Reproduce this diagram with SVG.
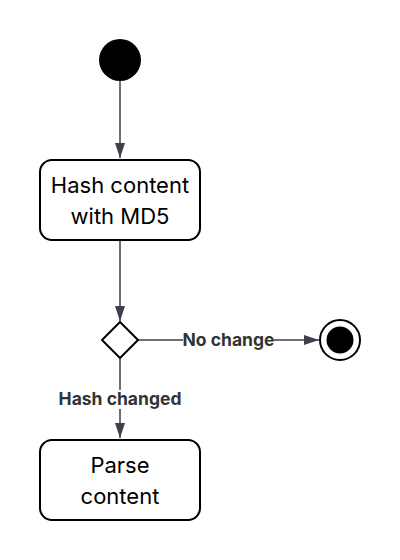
<svg xmlns="http://www.w3.org/2000/svg" width="400" height="560" viewBox="0 0 400 560">
<style>
.node{fill:#fff;stroke:#000;stroke-width:2}
.t{font-family:Inter,"Noto Sans",sans-serif;font-size:22px;fill:#000;text-anchor:middle}
.edge{stroke:#3b4049;stroke-width:1.5;fill:none}
.lbl{font-family:Inter,"Noto Sans",sans-serif;font-size:17.5px;font-weight:bold;fill:#333;text-anchor:middle}
</style>
<defs>
<marker id="arr" viewBox="0 0 15 10" refX="15" refY="5" markerWidth="15" markerHeight="10" markerUnits="userSpaceOnUse" orient="auto">
<path d="M0,0 L15,5 L0,10 z" fill="#3b4049"/>
</marker>
</defs>
<rect width="400" height="560" fill="#fff"/>
<g id="connectors">
<line class="edge" x1="120" y1="81" x2="120" y2="158" marker-end="url(#arr)"/>
<line class="edge" x1="120" y1="241" x2="120" y2="321" marker-end="url(#arr)"/>
<line class="edge" x1="138" y1="340" x2="319" y2="340" marker-end="url(#arr)"/>
<line class="edge" x1="120" y1="358" x2="120" y2="438" marker-end="url(#arr)"/>
<rect x="183" y="331" width="91" height="18" fill="#fff"/>
<text class="lbl" x="228.5" y="346">No change</text>
<rect x="58" y="390" width="124" height="19" fill="#fff"/>
<text class="lbl" x="120" y="405">Hash changed</text>
</g>
<g id="start"><circle cx="120" cy="60" r="21" fill="#000"/></g>
<g id="hash"><rect class="node" x="40" y="160" width="160" height="80" rx="12"/>
<text class="t" x="120" y="192.5">Hash content</text>
<text class="t" x="120" y="223.5">with MD5</text></g>
<g id="decision"><path class="node" d="M120,322 L138,340 L120,358 L102,340 Z" stroke-linejoin="round"/></g>
<g id="end"><circle cx="340" cy="340" r="20" fill="#fff" stroke="#000" stroke-width="2"/><circle cx="340" cy="340" r="13.5" fill="#000"/></g>
<g id="parse"><rect class="node" x="40" y="440" width="160" height="80" rx="12"/>
<text class="t" x="120" y="472.5">Parse</text>
<text class="t" x="120" y="503.5">content</text></g>
</svg>
